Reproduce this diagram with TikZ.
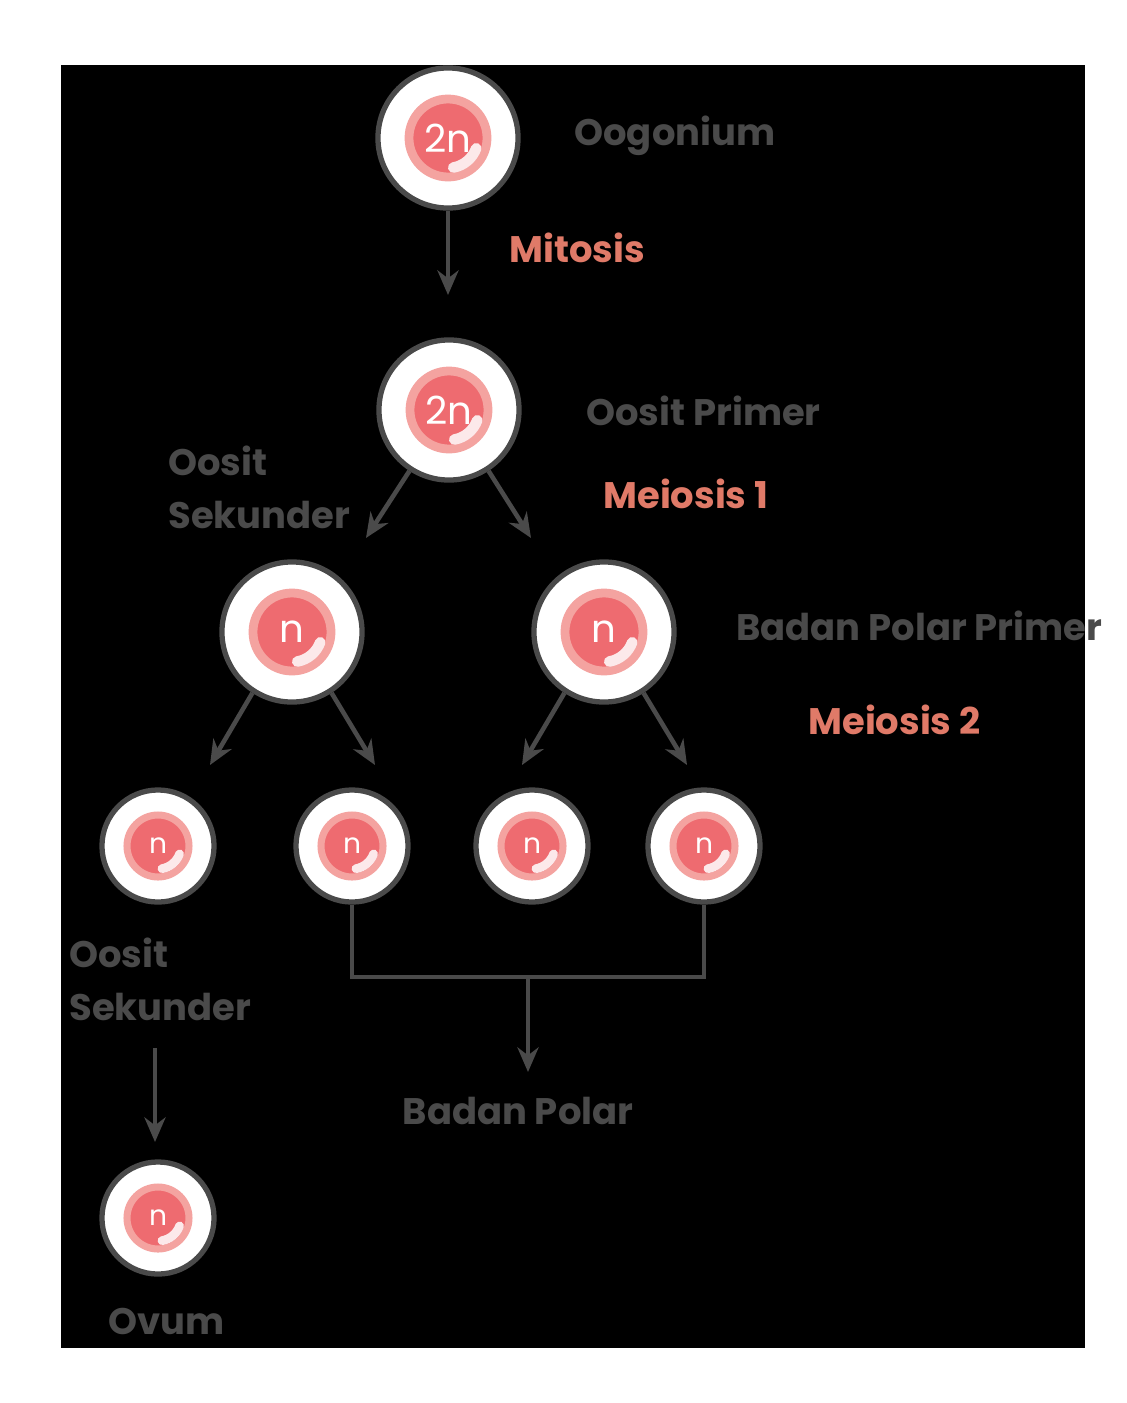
\documentclass[tikz,border=0pt]{standalone}
\usepackage{fontspec}
\setmainfont{Poppins}
\usetikzlibrary{arrows.meta,calc}
\definecolor{cellgray}{HTML}{4A4A4A}
\definecolor{nucred}{HTML}{EE6B70}
\definecolor{nucrim}{HTML}{F4A3A0}
\definecolor{salmon}{HTML}{E07A68}
\begin{document}
\begin{tikzpicture}[x=0.01cm, y=-0.01cm, >={Stealth[length=7pt,width=6pt]},
    bigcell/.style={circle, draw=cellgray, fill=white, line width=1.5pt, minimum size=1.4cm, inner sep=0},
    smallcell/.style={circle, draw=cellgray, fill=white, line width=1.5pt, minimum size=1.12cm, inner sep=0},
    nuctext/.style={text=white},
    arrow/.style={draw=cellgray, line width=1.3pt, ->},
    lbl/.style={text=cellgray, font=\fontsize{10.5}{15}\selectfont\bfseries, anchor=west, align=left},
    stage/.style={text=salmon, font=\fontsize{10.5}{15}\selectfont\bfseries, anchor=west}]
  \useasboundingbox (0,0) rectangle (1126,1403);
  \fill[black] (61,65) rectangle (1085,1348);
  % cells
  \node[bigcell] (oog) at (448,138) {};
  \node[bigcell] (prim) at (449,410) {};
  \node[bigcell] (sekA) at (292,632) {};
  \node[bigcell] (polA) at (604,632) {};
  \node[smallcell] (c1) at (158,846) {};
  \node[smallcell] (c2) at (352,846) {};
  \node[smallcell] (c3) at (532,846) {};
  \node[smallcell] (c4) at (704,846) {};
  \node[smallcell] (ovum) at (158,1218) {};
  \foreach \x/\y/\t in {448/138/2n,449/410/2n,292/632/n,604/632/n}{
    \fill[nucred, draw=nucrim, line width=2.5pt] (\x,\y) circle (39);
    \draw[white!85!nucred, line width=3pt, line cap=round] ($(\x,\y)+(20:30)$) arc (20:80:30);
    \node[nuctext, font=\fontsize{11}{13}\selectfont] at (\x,\y) {\t};
  }
  \foreach \x/\y in {158/846,352/846,532/846,704/846,158/1218}{
    \fill[nucred, draw=nucrim, line width=2pt] (\x,\y) circle (31);
    \draw[white!85!nucred, line width=2.5pt, line cap=round] ($(\x,\y)+(20:23)$) arc (20:80:23);
    \node[nuctext, font=\fontsize{8}{10}\selectfont] at (\x,\y) {n};
  }
  % arrows
  \coordinate (mitEnd) at (448,295);
  \draw[arrow] (oog) -- (mitEnd);
  \coordinate (m1L) at (366,538);
  \coordinate (m1R) at (531,538);
  \draw[arrow] (prim.-123) -- (m1L);
  \draw[arrow] (prim.-57) -- (m1R);
  \draw[arrow] (sekA.-123) -- (210,765);
  \draw[arrow] (sekA.-57) -- (375,765);
  \draw[arrow] (polA.-123) -- (522,765);
  \draw[arrow] (polA.-57) -- (687,765);
  \coordinate (join) at (528,977);
  \coordinate (polEnd) at (528,1072);
  \draw[draw=cellgray, line width=1.3pt] (c2.south) |- (join) -| (c4.south);
  \draw[arrow] (join) -- (polEnd);
  \coordinate (sekTop) at (155,1048);
  \coordinate (sekEnd) at (155,1142);
  \draw[arrow] (sekTop) -- (sekEnd);
  % labels
  \node[lbl] (tOog) at (562,136) {Oogonium};
  \node[stage] (tMit) at (497,248) {Mitosis};
  \node[lbl] (tPrim) at (574,411) {Oosit Primer};
  \node[lbl] (tSek1) at (156,487) {Oosit\\Sekunder};
  \node[stage] (tM1) at (591,494) {Meiosis 1};
  \node[lbl] (tPol) at (724,626) {Badan Polar Primer};
  \node[stage] (tM2) at (796,720) {Meiosis 2};
  \node[lbl] (tSek2) at (57,979) {Oosit\\Sekunder};
  \node[lbl, anchor=center] (tBP) at (518,1111) {Badan Polar};
  \node[lbl] (tOvum) at (96,1321) {Ovum};
\end{tikzpicture}
\end{document}
